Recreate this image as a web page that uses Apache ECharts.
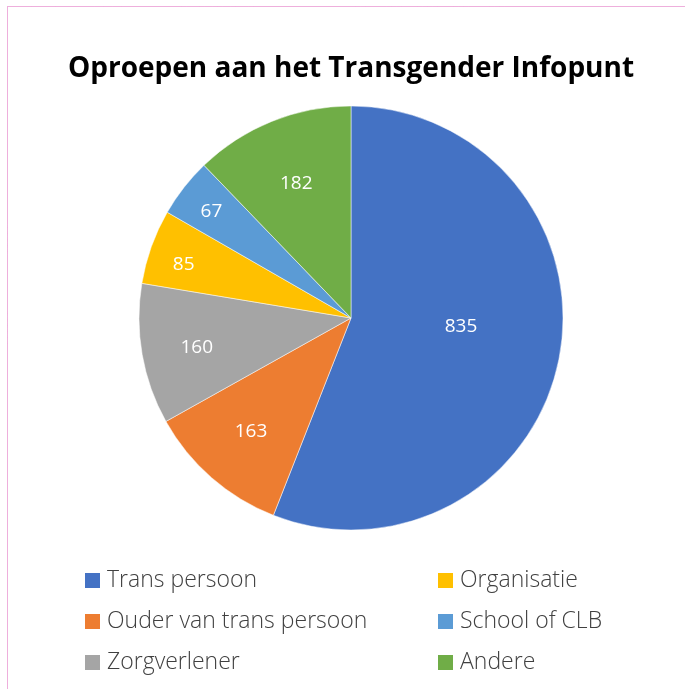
<!DOCTYPE html>
<html>
<head>
<meta charset="utf-8">
<script src="https://cdn.jsdelivr.net/npm/echarts@6/dist/echarts.min.js"></script>
<style>
html,body{margin:0;padding:0;background:#fff;}
#chart{width:685px;height:689px;}
</style>
</head>
<body>
<div id="chart"></div>
<script>
const categories = ['Trans persoon', 'Ouder van trans persoon', 'Zorgverlener', 'Organisatie', 'School of CLB', 'Andere'];
const values = [835, 163, 160, 85, 67, 182];
const colors = ['#4472C4', '#ED7D31', '#A5A5A5', '#FFC000', '#5B9BD5', '#70AD47'];
// label placement style: radial fraction of radius and angular shift (degrees)
const labelRadiusFrac = [0.52, 0.71, 0.74, 0.83, 0.83, 0.69];
const labelAngleShift = [-7, 0.5, -0.7, -1.6, -0.5, 0];

const cx = 351, cy = 318, R = 212;
const chart = echarts.init(document.getElementById('chart'));
const font = '"Open Sans", sans-serif';

const total = values.reduce((a, b) => a + b, 0);
const midAngles = [];
let acc = 0;
values.forEach(v => { midAngles.push((acc + v / 2) / total * 360); acc += v; });

const legendBase = {
  orient: 'vertical',
  icon: 'rect',
  itemWidth: 17,
  itemHeight: 17,
  itemGap: 18,
  top: 569,
  padding: 0,
  textStyle: { fontFamily: font, fontSize: 23, fontWeight: 300, color: '#404040', padding: [0, 0, 0, 1] }
};

chart.setOption({
  animation: false,
  color: colors,
  title: {
    text: 'Oproepen aan het Transgender Infopunt',
    left: 346, top: 50, textAlign: 'center',
    textStyle: { fontFamily: font, fontSize: 28, fontWeight: 'bold', color: '#000' }
  },
  legend: [
    Object.assign({}, legendBase, { left: 83, data: categories.slice(0, 3) }),
    Object.assign({}, legendBase, { left: 436, data: categories.slice(3) })
  ],
  graphic: [{
    type: 'rect',
    shape: { x: 7.5, y: 6.5, width: 900, height: 900 },
    style: { fill: 'none', stroke: '#dc5fb8', lineWidth: 1, lineDash: [1, 1] },
    silent: true
  }],
  series: [{
    type: 'pie',
    center: [cx, cy],
    radius: [0, R],
    startAngle: 90,
    clockwise: true,
    itemStyle: { borderColor: '#ffffff', borderWidth: 0.5 },
    emphasis: { disabled: true },
    label: {
      show: true,
      position: 'inside',
      formatter: '{c}',
      fontFamily: font,
      fontSize: 19,
      color: '#ffffff'
    },
    labelLine: { show: false },
    labelLayout: function (p) {
      const r = p.labelRect;
      const lx = r.x + r.width / 2, ly = r.y + r.height / 2;
      const i = p.dataIndex;
      const a = (midAngles[i] + labelAngleShift[i]) * Math.PI / 180;
      const d = labelRadiusFrac[i] * R;
      const tx = cx + d * Math.sin(a), ty = cy - d * Math.cos(a);
      return { dx: tx - lx, dy: ty - ly + 1 };
    },
    data: categories.map((c, i) => ({ name: c, value: values[i] }))
  }]
});
</script>
</body>
</html>
